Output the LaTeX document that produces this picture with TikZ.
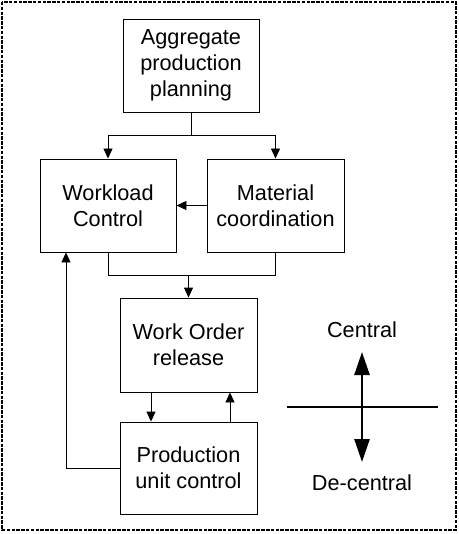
\documentclass[tikz,border=0pt]{standalone}
\usepackage{fontspec}
\setmainfont{Liberation Sans}
\usetikzlibrary{arrows.meta, positioning}

\begin{document}
\begin{tikzpicture}[x=1pt, y=-1pt,
		every node/.style={font=\fontsize{21.7}{26}\selectfont, align=center},
		box/.style={draw, line width=0.9pt, minimum width=136pt, minimum height=93pt, inner sep=0pt},
		arr/.style={line width=0.9pt, -{Triangle[length=10pt, width=9pt]}},
		bigarr/.style={line width=2.6pt, {Triangle[length=23pt, width=15pt]}-{Triangle[length=23pt, width=15pt]}}]
		\useasboundingbox (0,0) rectangle (458,534);
		\draw[line width=2.6pt, dash pattern=on 3.5pt off 1.3pt] (2,2) rectangle (456,530);
		% boxes
		\node[box] (agg) at (191,65.5) {Aggregate\\production\\planning};
		\node[box] (wl) at (108,205.5) {Workload\\Control};
		\node[box, minimum width=137pt] (mat) at (275.5,205.5) {Material\\coordination};
		\node[box, minimum width=137pt, minimum height=94pt] (wor) at (188.5,345) {Work Order\\release};
		\node[box, minimum width=137pt, minimum height=92pt] (puc) at (188.5,468) {Production\\unit control};
		% connectors
		\coordinate (split) at (191,135);
		\coordinate (join) at (188.5,275);
		\draw[line width=0.9pt] (agg) -- (split);
		\draw[arr] (split) -| (wl.north); \draw[arr] (split) -| (mat.north);
		\draw[arr] (mat.west) -- (wl.east);
		\draw[line width=0.9pt] (wl.south) |- (join); \draw[line width=0.9pt] (mat.south) |- (join);
		\draw[arr] (join) -- (wor.north);
		\draw[arr] ([xshift=-37.5pt]wor.south) -- ([xshift=-37.5pt]puc.north);
		\draw[arr] ([xshift=41.5pt]puc.north) -- ([xshift=41.5pt]wor.south);
		\draw[arr] (puc.west) -| ([xshift=-42pt]wl.south);
		% central / de-central
		\node (cen) at (362,330) {Central};
		\node (dec) at (362,483) {De-central};
		\coordinate (hl) at (287,407); \coordinate (hr) at (438,407);
		\coordinate (up) at (362,352); \coordinate (dn) at (362,462);
		\draw[line width=2.2pt] (hl) -- (hr);
		\draw[bigarr] (dn) -- (up);
	\end{tikzpicture}
\end{document}
